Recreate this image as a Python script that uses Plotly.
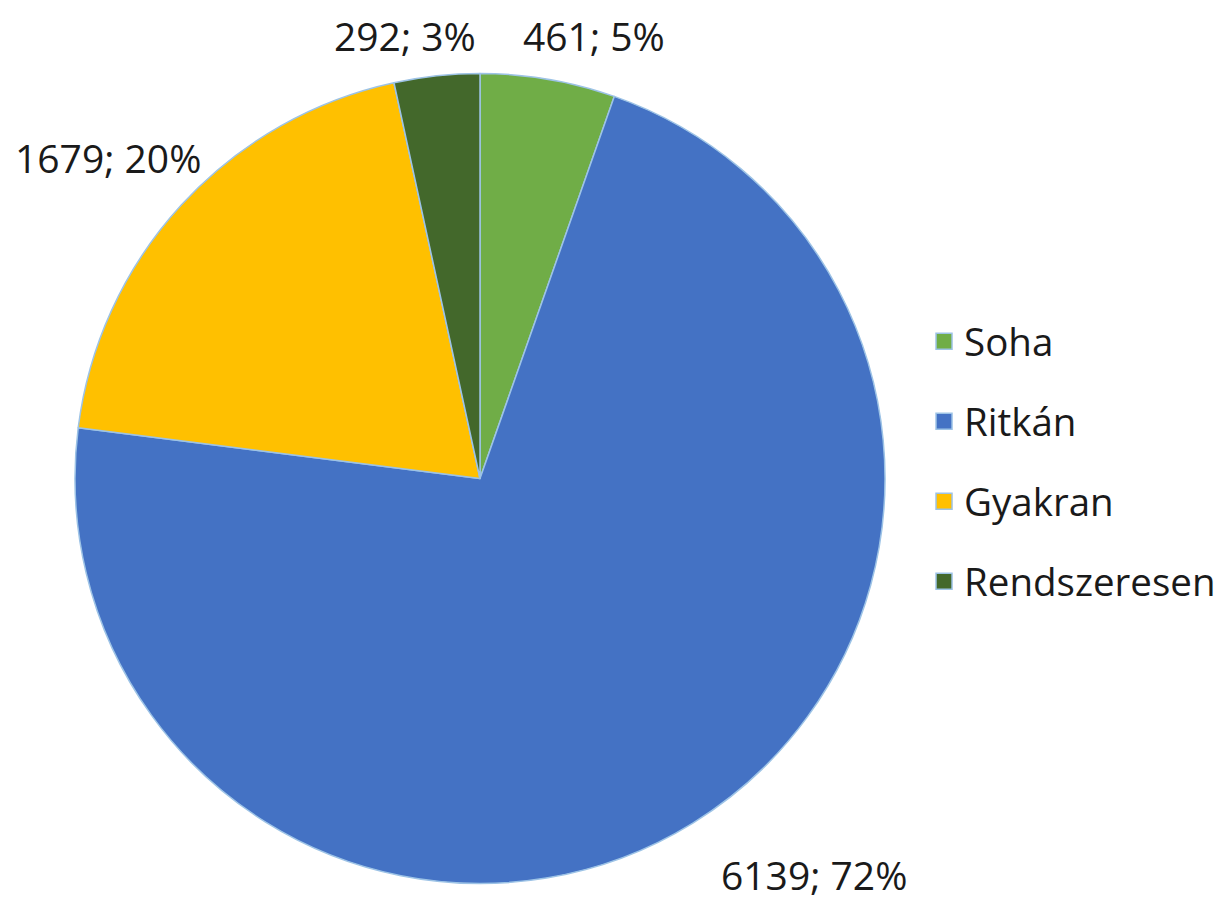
import plotly.graph_objects as go

categories = ["Soha", "Ritkán", "Gyakran", "Rendszeresen"]
values = [461, 6139, 1679, 292]
colors = ["#70AD47", "#4472C4", "#FFC000", "#43682B"]

# label placement (page pixels, annotation box centre)
label_pos_px = [(586, 27), (806, 866), (100, 149), (397, 27)]

FONT = "Open Sans"
W, H = 1223, 900
total = sum(values)

fig = go.Figure()
fig.add_trace(go.Pie(
    labels=categories, values=values, sort=False, direction="clockwise", rotation=0,
    marker=dict(colors=colors, line=dict(color="#9DC3E6", width=1.5)),
    textinfo="none",
    domain=dict(x=[67/W, 877/W], y=[23/H, 836/H]),
    showlegend=False, hoverinfo="label+value+percent", automargin=False,
))
for v, (px, py) in zip(values, label_pos_px):
    fig.add_annotation(
        x=px / W, y=1 - py / H, xref="paper", yref="paper",
        xanchor="center", yanchor="middle", showarrow=False, borderpad=0,
        text=f"{v}; {round(100 * v / total)}%",
        font=dict(family=FONT, size=39, color="#1a1a1a"),
    )
for c, col in zip(categories, colors):
    fig.add_trace(go.Scatter(
        x=[None], y=[None], mode="markers", name=c, legendgroup=c,
        marker=dict(symbol="square", size=22, color=col, line=dict(color="#9DC3E6", width=1.5)),
    ))
fig.update_layout(
    width=W, height=H, margin=dict(l=0, r=0, t=0, b=0, autoexpand=False),
    paper_bgcolor="white", plot_bgcolor="white",
    xaxis=dict(visible=False), yaxis=dict(visible=False),
    legend=dict(x=0.749, y=0.496, xanchor="left", yanchor="middle",
                font=dict(family=FONT, size=38.5, color="#1a1a1a"),
                tracegroupgap=27, traceorder="grouped", itemwidth=30),
)
fig.write_html("out.html")
